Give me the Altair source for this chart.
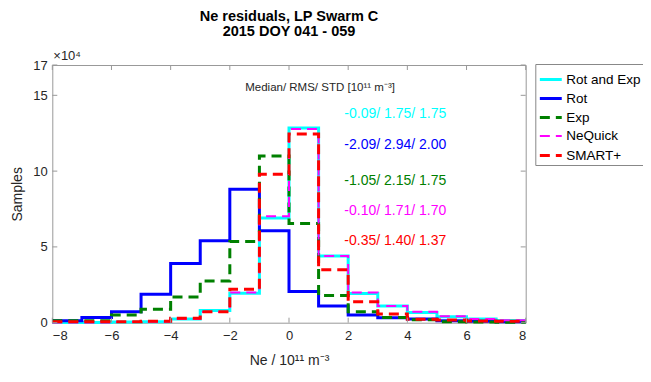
import altair as alt
import pandas as pd

# ---- data (values in units of 10^4 samples) ----
edges = [-8, -7, -6, -5, -4, -3, -2, -1, 0, 1, 2, 3, 4, 5, 6, 7, 8]
series = ["Rot and Exp", "Rot", "Exp", "NeQuick", "SMART+"]
colors = ["#00FFFF", "#0000FF", "#008000", "#FF00FF", "#FF0000"]
dashes = [[1, 0], [1, 0], [10, 6], [10, 6], [10, 6]]
widths = [3, 3, 3, 2, 3]

rot_and_exp = [0.02, 0.02, 0.04, 0.06, 0.24, 0.8, 1.95, 6.9, 12.85, 4.4, 1.93, 1.1, 0.68, 0.4, 0.24, 0.15]
rot = [0.13, 0.35, 0.72, 1.87, 3.9, 5.4, 8.8, 6.07, 2.05, 1.1, 0.5, 0.33, 0.24, 0.13, 0.09, 0.07]
exp_ = [0.13, 0.13, 0.5, 0.88, 1.7, 2.75, 5.35, 11.0, 6.55, 1.8, 0.73, 0.35, 0.2, 0.07, 0.04, 0.03]
nequick = [0.02, 0.02, 0.04, 0.06, 0.25, 0.7, 2.0, 7.03, 12.77, 4.4, 2.0, 1.1, 0.72, 0.42, 0.25, 0.16]
smart = [0.07, 0.07, 0.07, 0.09, 0.3, 0.72, 2.2, 9.8, 12.44, 3.5, 1.38, 0.57, 0.22, 0.18, 0.12, 0.1]
values = [rot_and_exp, rot, exp_, nequick, smart]

stats_header = "Median/ RMS/ STD [10\u00b9\u00b9 m\u207b\u00b3]"
stats = ["-0.09/ 1.75/ 1.75", "-2.09/ 2.94/ 2.00", "-1.05/ 2.15/ 1.75",
         "-0.10/ 1.71/ 1.70", "-0.35/ 1.40/ 1.37"]
stats_y = [13.79, 11.72, 9.37, 7.37, 5.39]
stats_x = 1.87
header_x, header_y = -1.48, 15.46

xticks = [-8, -6, -4, -2, 0, 2, 4, 6, 8]
yticks = [0, 5, 10, 15, 17]

W, H = 473.4, 257.7
FONT = "Liberation Sans"

rows = []
for s, v in zip(series, values):
    for e, val in zip(edges[:-1], v):
        rows.append({"series": s, "x": e, "y": val})
    rows.append({"series": s, "x": edges[-1], "y": v[-1]})
df = pd.DataFrame(rows)

xscale = alt.Scale(domain=[-8, 8], nice=False, zero=False)
yscale = alt.Scale(domain=[0, 17], nice=False)

color_enc = alt.Color("series:N", scale=alt.Scale(domain=series, range=colors),
                      legend=alt.Legend(title=None))
dash_enc = alt.StrokeDash("series:N", scale=alt.Scale(domain=series, range=dashes),
                          legend=alt.Legend(title=None))
width_enc = alt.StrokeWidth("series:N", scale=alt.Scale(type="ordinal", domain=series, range=widths),
                            legend=alt.Legend(title=None))

x_enc = alt.X("x:Q", scale=xscale,
              axis=alt.Axis(values=xticks, title="Ne / 10\u00b9\u00b9 m\u207b\u00b3",
                            labelPadding=7, titlePadding=11))
y_enc = alt.Y("y:Q", scale=yscale,
              axis=alt.Axis(values=yticks, title="Samples", labelPadding=5, titlePadding=8))

layers = []
for s in series:
    layers.append(
        alt.Chart(df).transform_filter(alt.datum.series == s)
        .mark_line(interpolate="step-after")
        .encode(x=x_enc, y=y_enc, color=color_enc, strokeDash=dash_enc, strokeWidth=width_enc)
    )

# inner ticks (MATLAB style box ticks)
xt = pd.DataFrame({"x": xticks})
yt = pd.DataFrame({"y": yticks})
tick_color = "#999999"
tb = alt.Chart(xt).mark_rule(color=tick_color, strokeWidth=1).encode(
    x=alt.X("x:Q", scale=xscale), y=alt.value(H), y2=alt.value(H - 5))
tt = alt.Chart(xt).mark_rule(color=tick_color, strokeWidth=1).encode(
    x=alt.X("x:Q", scale=xscale), y=alt.value(0), y2=alt.value(5))
tl = alt.Chart(yt).mark_rule(color=tick_color, strokeWidth=1).encode(
    y=alt.Y("y:Q", scale=yscale), x=alt.value(0), x2=alt.value(5))
tr = alt.Chart(yt).mark_rule(color=tick_color, strokeWidth=1).encode(
    y=alt.Y("y:Q", scale=yscale), x=alt.value(W), x2=alt.value(W - 5))

# stats text
sdf = pd.DataFrame({"x": [stats_x] * 5, "y": stats_y, "text": stats, "c": colors})
stext = alt.Chart(sdf).mark_text(align="left", baseline="middle", fontSize=14, font=FONT).encode(
    x=alt.X("x:Q", scale=xscale), y=alt.Y("y:Q", scale=yscale), text="text:N",
    color=alt.Color("c:N", scale=None))
hdf = pd.DataFrame({"x": [header_x], "y": [header_y], "text": [stats_header]})
htext = alt.Chart(hdf).mark_text(align="left", baseline="middle", fontSize=11.5, font=FONT,
                                 color="#262626").encode(
    x=alt.X("x:Q", scale=xscale), y=alt.Y("y:Q", scale=yscale), text="text:N")

exp_label = alt.Chart(pd.DataFrame({"t": ["\u00d710\u2074"]})).mark_text(
    align="left", baseline="bottom", fontSize=13, font=FONT, color="#262626").encode(
    x=alt.value(1), y=alt.value(-2), text="t:N")

chart = alt.layer(*layers, tb, tt, tl, tr, stext, htext, exp_label).properties(
    width=W, height=H,
    title=alt.TitleParams(["Ne residuals, LP Swarm C", "2015 DOY 041 - 059"],
                          fontSize=14.5, fontWeight="bold", font=FONT, color="#000000",
                          anchor="middle", offset=11, lineHeight=15),
    autosize=alt.AutoSizeParams(type="none"),
    padding={"left": 44.3, "top": 57, "right": 117.3, "bottom": 51.3},
).configure_view(stroke="#999999", strokeWidth=1).configure_axis(
    domain=False, ticks=False, grid=False, labelFont=FONT, labelFontSize=13,
    labelColor="#262626", titleFont=FONT, titleFontSize=14, titleFontWeight="normal",
    titleColor="#262626"
).configure_legend(
    orient="none", legendX=483, legendY=-1, strokeColor="#888888", fillColor="white",
    padding=3, symbolType="stroke", symbolSize=480, labelFont=FONT, labelFontSize=13.5,
    labelColor="#000000", rowPadding=-1, labelOffset=3, symbolStrokeColor="black"
)

chart.save("out.html", embed_options={"renderer": "svg", "actions": False})
